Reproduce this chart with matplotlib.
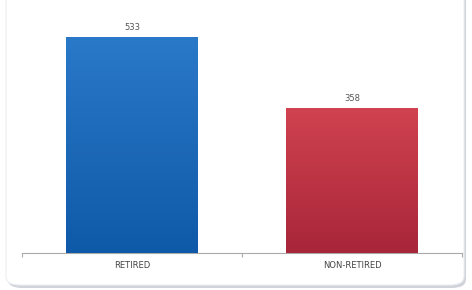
import numpy as np
import matplotlib
matplotlib.use("Agg")
import matplotlib.pyplot as plt
from matplotlib.patches import FancyBboxPatch
from matplotlib.colors import LinearSegmentedColormap

categories = ["RETIRED", "NON-RETIRED"]
values = [533, 358]
top_colors = ["#2a78c8", "#d0424f"]
bottom_colors = ["#0f5aa8", "#a8263a"]

fig = plt.figure(figsize=(4.72, 2.9), dpi=100)
fig.patch.set_facecolor("white")

# rounded frame with soft shadow (top runs off the image)
shadow = FancyBboxPatch((8 / 472, 2 / 290), 458 / 472, 310 / 290,
                        boxstyle="round,pad=0,rounding_size=0.03",
                        transform=fig.transFigure, facecolor="#d0d4da",
                        edgecolor="none", zorder=-3)
frame = FancyBboxPatch((6 / 472, 5 / 290), 458 / 472, 310 / 290,
                       boxstyle="round,pad=0,rounding_size=0.03",
                       transform=fig.transFigure, facecolor="white",
                       edgecolor="#eceef1", linewidth=0.8, zorder=-2)
fig.patches.extend([shadow, frame])

ax = fig.add_axes([22 / 472, 37 / 290, 440 / 472, 238 / 290])
ax.patch.set_alpha(0)
x = np.arange(len(categories))
width = 0.6
bars = ax.bar(x, values, width=width, color=top_colors, zorder=2)

# vertical gradient on each bar
for b, c1, c2 in zip(bars, top_colors, bottom_colors):
    cmap = LinearSegmentedColormap.from_list("g", [c2, c1])
    grad = np.linspace(0, 1, 100).reshape(-1, 1)
    x0, y0 = b.get_x(), b.get_y()
    ax.imshow(grad, cmap=cmap, aspect="auto", origin="lower",
              extent=[x0, x0 + b.get_width(), y0, y0 + b.get_height()], zorder=3)

for xi, v in zip(x, values):
    ax.text(xi, v + 14, str(v), ha="center", va="bottom", fontsize=6,
            color="#555555")

ax.set_xlim(-0.5, 1.5)
ax.set_ylim(0, 590)
ax.set_yticks([])
ax.set_xticks([-0.5, 0.5, 1.5])
ax.set_xticklabels([])
ax.tick_params(axis="x", length=3, color="#aaaaaa", direction="out")
for xi, lab in zip(x, categories):
    ax.text(xi, -32, lab, ha="center", va="center", fontsize=6,
            color="#444444")
for s in ["top", "left", "right"]:
    ax.spines[s].set_visible(False)
ax.spines["bottom"].set_color("#aaaaaa")
ax.spines["bottom"].set_linewidth(0.8)

fig.savefig("out.png", dpi=100)
